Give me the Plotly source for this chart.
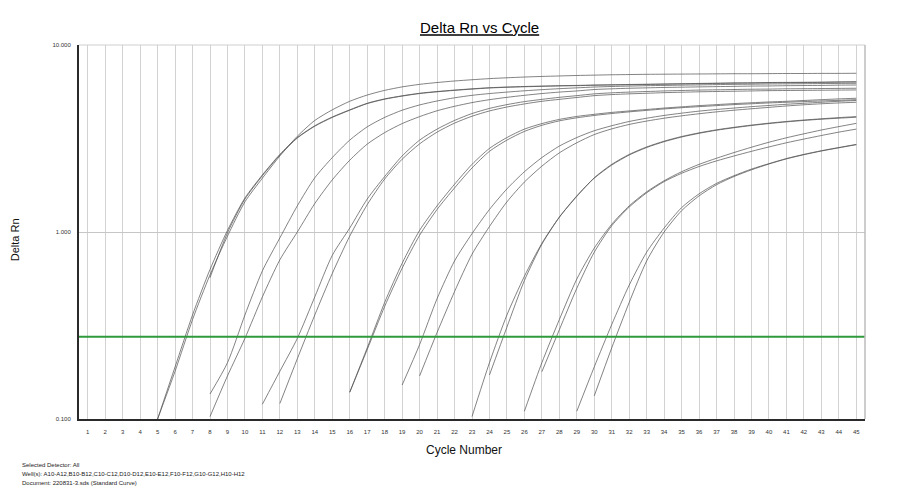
import plotly.graph_objects as go

# Delta Rn per cycle for each well
# (each curve is listed from its first plotted cycle up to cycle 45)
a1_start = 5
a1 = [0.100, 0.18, 0.34, 0.59, 0.95, 1.45, 1.94, 2.55, 3.25, 3.95, 4.5, 5.0, 5.4, 5.72,
      5.97, 6.16, 6.3, 6.42, 6.52, 6.61, 6.68, 6.74, 6.79, 6.83, 6.87, 6.9, 6.93, 6.95,
      6.97, 6.98, 6.99, 7.0, 7.01, 7.02, 7.02, 7.03, 7.04, 7.04, 7.05, 7.05, 7.06]
a2_start = 5
a2 = [0.100, 0.19, 0.36, 0.63, 1.02, 1.52, 2.02, 2.6, 3.2, 3.7, 4.12, 4.5, 4.88, 5.15,
      5.35, 5.52, 5.64, 5.74, 5.83, 5.91, 5.96, 6.0, 6.03, 6.06, 6.08, 6.11, 6.13, 6.15,
      6.17, 6.19, 6.21, 6.23, 6.25, 6.27, 6.28, 6.3, 6.31, 6.32, 6.33, 6.35, 6.36]
a3_start = 8
a3 = [0.57, 0.99, 1.5, 2.0, 2.58, 3.18, 3.68, 4.1, 4.48, 4.86, 5.13, 5.33, 5.5, 5.62,
      5.72, 5.81, 5.89, 5.94, 5.98, 6.01, 6.04, 6.06, 6.09, 6.11, 6.13, 6.15, 6.17, 6.19,
      6.21, 6.23, 6.25, 6.26, 6.28, 6.29, 6.3, 6.31, 6.33, 6.34]
b1_start = 8
b1 = [0.136, 0.2, 0.36, 0.62, 0.93, 1.38, 1.95, 2.5, 3.1, 3.65, 4.1, 4.48, 4.78, 5.02,
      5.22, 5.38, 5.5, 5.6, 5.69, 5.77, 5.84, 5.9, 5.96, 6.0, 6.03, 6.06, 6.08, 6.1,
      6.12, 6.14, 6.16, 6.17, 6.19, 6.2, 6.21, 6.22, 6.23, 6.24]
b2_start = 8
b2 = [0.103, 0.17, 0.27, 0.45, 0.71, 1.0, 1.42, 1.9, 2.42, 2.95, 3.4, 3.8, 4.14, 4.45,
      4.7, 4.92, 5.1, 5.25, 5.38, 5.5, 5.6, 5.68, 5.78, 5.83, 5.87, 5.9, 5.93, 5.95,
      5.97, 5.99, 6.01, 6.03, 6.04, 6.06, 6.07, 6.08, 6.1, 6.11]
c1_start = 11
c1 = [0.12, 0.18, 0.27, 0.45, 0.75, 1.05, 1.5, 1.98, 2.55, 3.1, 3.55, 3.95, 4.3, 4.58,
      4.8, 4.98, 5.12, 5.25, 5.36, 5.48, 5.55, 5.6, 5.64, 5.68, 5.71, 5.74, 5.76, 5.78,
      5.8, 5.81, 5.83, 5.84, 5.85, 5.86, 5.87]
c2_start = 12
c2 = [0.121, 0.21, 0.36, 0.6, 0.95, 1.4, 1.92, 2.45, 2.96, 3.42, 3.82, 4.16, 4.44, 4.66,
      4.84, 5.0, 5.12, 5.24, 5.36, 5.43, 5.48, 5.52, 5.56, 5.59, 5.62, 5.64, 5.66, 5.68,
      5.7, 5.71, 5.72, 5.73, 5.74, 5.75]
d1_start = 16
d1 = [0.139, 0.24, 0.42, 0.68, 1.02, 1.38, 1.8, 2.3, 2.8, 3.2, 3.55, 3.8, 4.0, 4.15,
      4.26, 4.36, 4.44, 4.52, 4.6, 4.67, 4.74, 4.8, 4.86, 4.91, 4.96, 5.0, 5.05, 5.1,
      5.15, 5.19]
d2_start = 16
d2 = [0.139, 0.235, 0.4, 0.64, 0.96, 1.32, 1.72, 2.2, 2.7, 3.1, 3.45, 3.72, 3.93, 4.08,
      4.2, 4.3, 4.39, 4.47, 4.55, 4.62, 4.68, 4.74, 4.8, 4.85, 4.9, 4.94, 4.98, 5.02,
      5.06, 5.1]
e1_start = 19
e1 = [0.152, 0.25, 0.44, 0.7, 0.98, 1.32, 1.7, 2.1, 2.5, 2.88, 3.2, 3.48, 3.7, 3.9,
      4.06, 4.2, 4.32, 4.43, 4.52, 4.6, 4.68, 4.75, 4.82, 4.88, 4.94, 5.0, 5.05]
e2_start = 20
e2 = [0.17, 0.29, 0.48, 0.76, 1.07, 1.45, 1.85, 2.25, 2.65, 3.0, 3.32, 3.56, 3.76, 3.92,
      4.06, 4.18, 4.29, 4.39, 4.48, 4.56, 4.64, 4.72, 4.79, 4.85, 4.9, 4.94]
f1_start = 23
f1 = [0.103, 0.2, 0.36, 0.58, 0.87, 1.2, 1.55, 1.95, 2.3, 2.6, 2.85, 3.06, 3.24, 3.39,
      3.52, 3.63, 3.73, 3.82, 3.9, 3.97, 4.03, 4.09, 4.14]
f2_start = 24
f2 = [0.172, 0.31, 0.55, 0.86, 1.2, 1.56, 1.94, 2.28, 2.58, 2.83, 3.04, 3.22, 3.37, 3.5,
      3.61, 3.71, 3.8, 3.88, 3.95, 4.01, 4.06, 4.11]
g1_start = 26
g1 = [0.11, 0.2, 0.34, 0.56, 0.82, 1.1, 1.38, 1.64, 1.88, 2.1, 2.3, 2.48, 2.66, 2.84,
      3.02, 3.19, 3.35, 3.51, 3.66, 3.81]
g2_start = 27
g2 = [0.179, 0.3, 0.5, 0.78, 1.08, 1.36, 1.62, 1.86, 2.06, 2.24, 2.4, 2.55, 2.7, 2.85,
      3.0, 3.14, 3.28, 3.42, 3.55]
h1_start = 29
h1 = [0.11, 0.19, 0.32, 0.52, 0.78, 1.05, 1.35, 1.6, 1.82, 2.0, 2.17, 2.32, 2.47, 2.6,
      2.72, 2.83, 2.94]
h2_start = 30
h2 = [0.133, 0.24, 0.42, 0.7, 1.0, 1.3, 1.56, 1.79, 1.98, 2.15, 2.31, 2.46, 2.59, 2.71,
      2.82, 2.93]

threshold = 0.275
cycle_ticks = list(range(1, 46))
y_ticks = [0.1, 1, 10]
y_tick_labels = ["0.100", "1.000", "10.000"]

footer = [
    "Selected Detector: All",
    "Well(s): A10-A12,B10-B12,C10-C12,D10-D12,E10-E12,F10-F12,G10-G12,H10-H12",
    "Document: 220831-3.sds (Standard Curve)",
]

curves = [(a1_start, a1), (a2_start, a2), (a3_start, a3), (b1_start, b1), (b2_start, b2),
          (c1_start, c1), (c2_start, c2), (d1_start, d1), (d2_start, d2), (e1_start, e1),
          (e2_start, e2), (f1_start, f1), (f2_start, f2), (g1_start, g1), (g2_start, g2),
          (h1_start, h1), (h2_start, h2)]

FONT = "Arial, Liberation Sans, sans-serif"

fig = go.Figure()

for start, vals in curves:
    fig.add_trace(go.Scatter(
        x=list(range(start, start + len(vals))), y=vals, mode="lines",
        line=dict(color="#4d4d4d", width=0.7, shape="spline", smoothing=0.7),
        hoverinfo="skip"))

# threshold line
fig.add_hline(y=threshold, line=dict(color="#2f9a3c", width=2))

# light border on top and right
fig.add_shape(type="line", xref="paper", yref="paper", x0=0, x1=1, y0=1, y1=1,
              line=dict(color="#cfcfcf", width=1))
fig.add_shape(type="line", xref="paper", yref="paper", x0=1, x1=1, y0=0, y1=1,
              line=dict(color="#bdbdbd", width=1.5))

# the page adds an 8px body margin, so the margins are pulled in by that much
fig.update_layout(
    width=900, height=500,
    margin=dict(l=71, r=43, t=37, b=89),
    paper_bgcolor="white", plot_bgcolor="white",
    showlegend=False, hovermode=False,
    font=dict(family=FONT, color="#222"),
    title=dict(text="<u>Delta Rn vs Cycle</u>", font=dict(size=15, color="black", family=FONT),
               xref="container", x=0.524, xanchor="center",
               yref="container", y=0.96, yanchor="middle"),
)

fig.update_xaxes(
    range=[0.5, 45.5], tickmode="array", tickvals=cycle_ticks,
    ticktext=[str(c) for c in cycle_ticks], tickfont=dict(size=6, color="#333"),
    ticklabelstandoff=6, showgrid=True, gridcolor="#d2d2d2", gridwidth=1,
    showline=True, linecolor="#2a2a2a", linewidth=2, zeroline=False,
)
fig.update_yaxes(
    type="log", range=[-1, 1], tickmode="array", tickvals=y_ticks,
    ticktext=y_tick_labels, tickfont=dict(size=6, color="#333"),
    ticklabelstandoff=5, showgrid=True, gridcolor="#c6c6c6", gridwidth=1,
    showline=True, linecolor="#2a2a2a", linewidth=2, zeroline=False,
)

# axis titles
fig.add_annotation(text="Delta Rn", xref="paper", yref="paper", x=-0.0814, y=0.478,
                   textangle=-90, showarrow=False, font=dict(size=11, color="#111"),
                   xanchor="center", yanchor="middle")
fig.add_annotation(text="Cycle Number", xref="paper", yref="paper", x=0.49, y=-0.083,
                   showarrow=False, font=dict(size=12, color="#111"),
                   xanchor="center", yanchor="middle")

# footer text
for i, line in enumerate(footer):
    fig.add_annotation(text=line, xref="paper", yref="paper", x=-0.075,
                       y=-0.123 - 0.024 * i, showarrow=False,
                       font=dict(size=6, color="#222"), xanchor="left", yanchor="middle")

fig.write_html("out.html")
